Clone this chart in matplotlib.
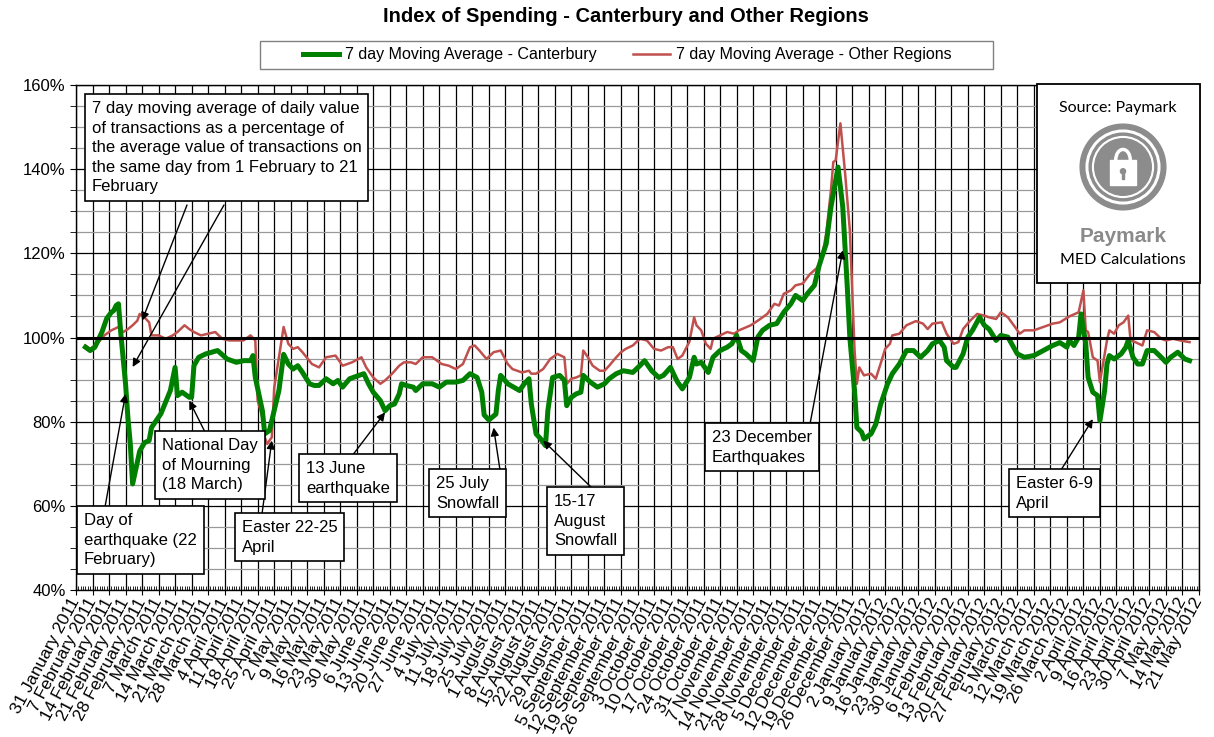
import matplotlib
matplotlib.use("Agg")
import matplotlib.pyplot as plt
from matplotlib.patches import Circle, Rectangle, Arc
from matplotlib.ticker import MultipleLocator, FuncFormatter
import matplotlib.dates as mdates
import pandas as pd

plt.rcParams['font.family'] = ['Liberation Sans', 'DejaVu Sans']

start = pd.Timestamp("2011-01-31")
end = pd.Timestamp("2012-05-21")

# (days after 31 January 2011, index %)
canterbury = [
    (4, 97.7), (6, 96.9), (8, 97.7), (11, 101.3), (13, 104.5), (15, 106.0), (16, 106.4),
    (17, 107.6), (18, 108.0), (19, 100.9), (21, 89.0), (22, 81.0), (23, 74.8), (24, 65.2),
    (27, 73.0), (29, 75.0), (31, 75.5), (32, 78.6), (36, 81.9), (40, 87.4), (42, 92.9),
    (43, 86.2), (45, 87.0), (48, 85.8), (49, 85.8), (50, 93.3), (52, 95.3), (55, 96.1),
    (60, 96.9), (64, 94.9), (68, 94.1), (71, 94.5), (74, 94.5), (75, 95.7), (76, 90.5),
    (79, 82.6), (80, 77.1), (82, 77.9), (84, 82.6), (86, 87.4), (88, 96.0), (90, 93.7),
    (92, 92.5), (94, 93.3), (96, 91.7), (99, 89.0), (101, 88.6), (103, 88.6), (106, 90.2),
    (109, 89.0), (111, 89.8), (113, 88.2), (116, 90.2), (120, 91.0), (122, 91.4), (124, 89.0),
    (126, 87.0), (129, 85.0), (131, 82.6), (133, 83.8), (135, 84.2), (137, 86.6), (138, 89.0),
    (140, 88.6), (143, 88.2), (144, 87.4), (147, 89.0), (151, 89.0), (154, 88.2), (157, 89.4),
    (161, 89.4), (164, 89.8), (167, 91.4), (170, 90.5), (172, 87.0), (173, 81.6), (175, 80.4),
    (178, 81.8), (179, 87.4), (180, 91.0), (183, 89.0), (188, 87.4), (190, 89.0), (192, 90.2),
    (193, 84.2), (195, 77.1), (197, 75.9), (199, 74.3), (200, 82.6), (202, 90.5), (205, 91.0),
    (207, 89.8), (208, 83.8), (210, 85.8), (212, 86.6), (214, 87.0), (215, 91.0), (218, 89.4),
    (221, 88.2), (224, 89.0), (226, 90.2), (229, 91.4), (232, 92.1), (236, 91.7), (239, 93.3),
    (241, 94.5), (244, 92.1), (247, 90.5), (249, 91.0), (252, 92.9), (254, 90.5), (255, 89.4),
    (257, 87.8), (260, 90.5), (262, 95.3), (263, 93.7), (265, 94.1), (268, 91.7), (270, 95.3),
    (273, 96.9), (276, 97.7), (278, 98.5), (280, 100.5), (282, 96.9), (284, 96.1), (287, 94.5),
    (289, 100.1), (291, 101.7), (294, 102.9), (297, 103.3), (300, 106.0), (303, 108.0),
    (305, 110.0), (308, 108.8), (310, 110.4), (313, 112.4), (315, 117.1), (318, 122.3),
    (320, 131.0), (322, 137.4), (323, 140.5), (325, 131.0), (327, 111.2), (328, 100.0),
    (330, 87.4), (331, 78.6), (333, 77.5), (334, 75.9), (337, 77.1), (339, 79.4), (341, 84.0),
    (344, 89.0), (346, 91.4), (349, 93.7), (352, 96.9), (355, 96.9), (358, 95.3), (361, 96.9),
    (363, 98.5), (366, 99.3), (368, 97.7), (369, 94.5), (372, 92.9), (373, 92.9), (376, 96.1),
    (378, 100.1), (380, 101.7), (383, 104.8), (385, 102.9), (387, 102.0), (390, 99.3),
    (392, 100.5), (395, 100.1), (397, 98.1), (399, 96.1), (402, 95.3), (406, 95.7), (410, 96.9),
    (414, 98.1), (417, 98.8), (420, 97.7), (421, 99.3), (423, 98.1), (425, 100.1), (426, 105.6),
    (428, 98.5), (429, 90.5), (431, 87.0), (433, 86.2), (434, 80.2), (436, 87.4), (437, 93.7),
    (438, 95.7), (440, 94.9), (443, 96.1), (445, 97.7), (446, 99.3), (448, 95.3), (450, 93.7),
    (452, 93.7), (454, 96.9), (457, 96.9), (460, 95.3), (462, 94.1), (464, 95.3), (467, 96.5),
    (470, 94.9), (472, 94.5),
]

other_regions = [
    (4, 98.1), (6, 97.3), (9, 98.5), (12, 100.5), (15, 101.7), (18, 102.5), (20, 101.3),
    (22, 102.0), (24, 102.9), (26, 104.0), (27, 105.6), (29, 104.8), (31, 103.6), (32, 100.5),
    (35, 100.5), (38, 99.7), (41, 100.5), (43, 101.3), (46, 102.9), (48, 102.0), (50, 101.3),
    (53, 100.5), (56, 100.9), (59, 101.3), (62, 99.7), (65, 99.3), (68, 99.3), (71, 99.3),
    (74, 100.5), (76, 99.3), (77, 85.0), (79, 81.0), (80, 76.3), (81, 74.7), (83, 76.3),
    (84, 88.0), (86, 95.3), (88, 102.5), (90, 98.5), (92, 97.3), (94, 97.7), (96, 96.5),
    (100, 93.7), (103, 92.9), (106, 95.3), (110, 95.7), (113, 93.3), (117, 94.1), (121, 95.3),
    (123, 92.9), (126, 90.5), (129, 89.0), (131, 89.8), (134, 91.4), (137, 93.3), (139, 94.1),
    (142, 94.1), (144, 93.7), (147, 95.3), (151, 95.3), (155, 93.7), (158, 93.3), (161, 92.5),
    (164, 93.7), (167, 97.7), (169, 98.1), (171, 96.9), (174, 94.9), (177, 96.5), (180, 96.9),
    (183, 93.7), (185, 92.5), (189, 91.7), (192, 92.1), (193, 91.4), (195, 91.4), (198, 92.5),
    (201, 94.9), (204, 96.1), (207, 95.3), (208, 89.0), (210, 90.2), (212, 90.5), (214, 91.0),
    (215, 96.9), (217, 95.3), (219, 93.3), (222, 92.1), (224, 92.1), (226, 93.3), (229, 95.3),
    (231, 96.5), (233, 97.3), (236, 98.1), (239, 99.7), (242, 99.3), (245, 97.3), (248, 96.9),
    (251, 97.7), (253, 97.7), (255, 94.9), (257, 95.7), (260, 99.0), (262, 104.8), (263, 102.9),
    (265, 101.7), (267, 98.5), (269, 97.3), (270, 99.7), (273, 100.5), (276, 101.3),
    (279, 100.9), (281, 101.7), (286, 102.9), (289, 104.0), (293, 105.6), (296, 108.0),
    (298, 107.6), (300, 110.4), (303, 111.2), (305, 112.4), (308, 112.8), (311, 115.0),
    (314, 116.5), (316, 118.5), (318, 124.7), (320, 135.0), (321, 141.7), (322, 142.1),
    (324, 150.9), (326, 139.0), (328, 125.5), (329, 111.0), (330, 97.0), (331, 89.0),
    (332, 92.9), (334, 91.0), (337, 91.4), (339, 90.2), (341, 93.7), (343, 97.3), (345, 98.5),
    (346, 100.5), (349, 100.9), (352, 102.9), (356, 103.9), (359, 103.3), (361, 102.0),
    (363, 103.3), (367, 103.6), (369, 100.9), (372, 98.5), (374, 98.9), (376, 102.0),
    (379, 104.0), (382, 105.6), (385, 105.2), (387, 104.8), (390, 104.4), (392, 106.0),
    (395, 104.8), (398, 102.5), (400, 100.9), (402, 101.7), (406, 101.7), (410, 102.5),
    (414, 103.3), (417, 103.6), (421, 105.0), (425, 106.0), (427, 111.2), (428, 101.7),
    (429, 101.3), (431, 95.3), (433, 94.5), (434, 89.4), (436, 96.1), (437, 99.3), (438, 101.7),
    (440, 100.9), (442, 102.9), (444, 103.6), (446, 105.2), (447, 99.3), (449, 98.9),
    (452, 98.1), (454, 101.7), (457, 101.3), (460, 99.7), (462, 99.3), (465, 99.7),
    (468, 99.3), (472, 98.9),
]

# annotation texts and the (date, value) each arrow points to
notes = [
    "7 day moving average of daily value\nof transactions as a percentage of\n"
    "the average value of transactions on\nthe same day from 1 February to 21\nFebruary",
    "Day of\nearthquake (22\nFebruary)",
    "National Day\nof Mourning\n(18 March)",
    "Easter 22-25\nApril",
    "13 June\nearthquake",
    "25 July\nSnowfall",
    "15-17\nAugust\nSnowfall",
    "23 December\nEarthquakes",
    "Easter 6-9\nApril",
]
arrow_tips = [
    ("2011-02-28", 104.0), ("2011-02-24", 93.0), ("2011-02-21", 86.6),
    ("2011-03-20", 85.0), ("2011-04-24", 75.5), ("2011-06-11", 82.2),
    ("2011-07-27", 78.6), ("2011-08-17", 75.5), ("2011-12-22", 120.7),
    ("2012-04-06", 80.6),
]

W, H = 1214, 737


def fp(x, y):
    # image pixel (from top-left) -> figure fraction
    return x / W, 1 - y / H


def to_dates(pairs):
    d = [start + pd.Timedelta(days=p[0]) for p in pairs]
    v = [p[1] for p in pairs]
    return d, v


fig = plt.figure(figsize=(W / 100, H / 100), dpi=100)
ax = fig.add_axes([76 / W, 1 - 590 / H, (1199 - 76) / W, (590 - 85) / H])

cd, cv = to_dates(canterbury)
od, ov = to_dates(other_regions)
ax.plot(cd, cv, color='#008000', lw=3.6, solid_joinstyle='round',
        label='7 day Moving Average - Canterbury', zorder=4)
ax.plot(od, ov, color='#C0504D', lw=1.8, label='7 day Moving Average - Other Regions', zorder=3)
ax.axhline(100, color='black', lw=2.2, zorder=5)

ax.set_xlim(start, end)
ax.set_ylim(40, 160)
ax.yaxis.set_major_locator(MultipleLocator(20))
ax.yaxis.set_minor_locator(MultipleLocator(5))
ax.yaxis.set_major_formatter(FuncFormatter(lambda v, p: f"{v:.0f}%"))
ax.set_xticks(pd.date_range(start, end, freq="7D"))
ax.xaxis.set_minor_locator(mdates.DayLocator())
ax.xaxis.set_major_formatter(FuncFormatter(
    lambda v, p: (lambda d: f"{d.day} {d.strftime('%B %Y')}")(mdates.num2date(v))))
ax.grid(which='major', axis='both', color='black', lw=0.9)
ax.grid(which='minor', axis='y', color='#999999', lw=0.9)
ax.tick_params(axis='x', which='major', direction='inout', length=7, labelsize=12.5, pad=3)
ax.tick_params(axis='x', which='minor', direction='in', length=3, width=0.6)
ax.tick_params(axis='y', which='both', direction='out', length=4, labelsize=12)
for lab in ax.get_xticklabels():
    lab.set_rotation(62)
    lab.set_rotation_mode('anchor')
    lab.set_ha('right')
    lab.set_va('center')
for s in ax.spines.values():
    s.set_color('black')
    s.set_linewidth(1.0)

fig.text(*fp(626, 17), "Index of Spending - Canterbury and Other Regions",
         ha='center', va='center', fontsize=14.5, fontweight='bold')
fig.patches.append(Rectangle(fp(260, 69), (993 - 260) / W, (69 - 41) / H,
                             transform=fig.transFigure, fc='white', ec='#808080', lw=1.0))
fig.legend(loc='center', bbox_to_anchor=fp(627, 55), ncol=2, fontsize=11.5,
           frameon=False, handlelength=2.3, handletextpad=0.35, columnspacing=2.3)

# annotation boxes (top-left pixel of each box)
box_pos = [(86, 95), (78, 507), (156, 432), (236, 514), (300, 455),
           (430, 470), (548, 488), (706, 424), (1010, 470)]
for txt, (bx, by) in zip(notes, box_pos):
    fig.text(*fp(bx + 6, by + 6), txt, ha='left', va='top', fontsize=12,
             linespacing=1.38, zorder=10,
             bbox=dict(boxstyle='square,pad=0.4', fc='white', ec='black', lw=1.2))

arrow_starts = [(187, 205), (224, 205), (105, 507), (205, 432), (262, 514),
                (352, 456), (500, 470), (592, 488), (810, 424), (1061, 470)]
for (sx, sy), (d, v) in zip(arrow_starts, arrow_tips):
    ax.annotate("", xy=(pd.Timestamp(d), v), xycoords='data', xytext=fp(sx, sy),
                textcoords='figure fraction', annotation_clip=False, zorder=9,
                arrowprops=dict(arrowstyle='-|>', color='black', lw=1.0,
                                shrinkA=0, shrinkB=0, mutation_scale=12))

# source box with logo
fig.patches.append(Rectangle(fp(1037, 283), (1200 - 1037) / W, (283 - 84) / H,
                             transform=fig.transFigure, fc='white', ec='black', lw=1.3,
                             zorder=10))
fig.text(*fp(1118, 108), "Source: Paymark", ha='center', va='center', fontsize=11.5,
         family=['Lato', 'DejaVu Sans'], zorder=11)
fig.text(*fp(1123, 236), "Paymark", ha='center', va='center', fontsize=15,
         fontweight='bold', color='#8a8a8a', zorder=11)
fig.text(*fp(1123, 260), "MED Calculations", ha='center', va='center', fontsize=11.5,
         family=['Lato', 'DejaVu Sans'], zorder=11)

lx, ly = fp(1078, 212)
lg = fig.add_axes([lx, ly, 90 / W, 90 / H], zorder=12)
lg.set_xlim(-1.05, 1.05)
lg.set_ylim(-1.05, 1.05)
lg.set_aspect('equal')
lg.axis('off')
grey = '#8c8c8c'
lg.add_patch(Circle((0, 0), 1.0, color=grey))
lg.add_patch(Circle((0, 0), 0.86, color='white'))
lg.add_patch(Circle((0, 0), 0.79, color=grey))
lg.add_patch(Circle((0, 0), 0.71, color='white'))
lg.add_patch(Circle((0, 0), 0.66, color=grey))
lg.add_patch(Rectangle((-0.3, -0.42), 0.6, 0.58, color='white'))
lg.add_patch(Arc((0, 0.16), 0.34, 0.5, theta1=0, theta2=180, color='white', lw=2.5))
lg.add_patch(Circle((0, -0.1), 0.06, color=grey))
lg.add_patch(Rectangle((-0.025, -0.27), 0.05, 0.17, color=grey))

fig.savefig("out.png", dpi=100)
